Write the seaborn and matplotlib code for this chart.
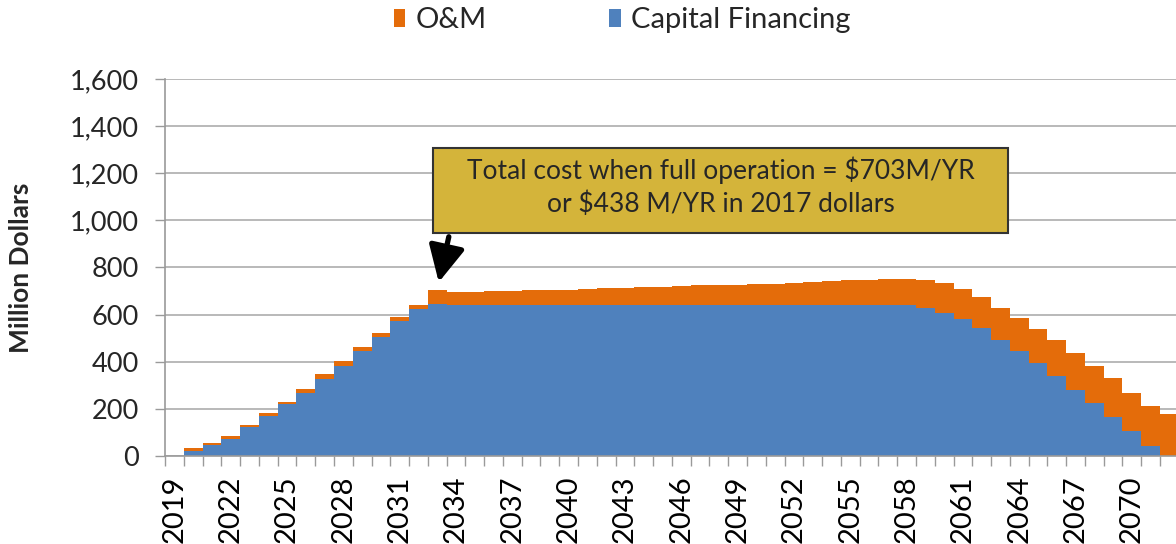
import numpy as np
import pandas as pd
import matplotlib.pyplot as plt
import seaborn as sns
from matplotlib.patches import Patch, Rectangle
from matplotlib.ticker import FuncFormatter, MultipleLocator

# Chart data (million dollars per year)
years = list(range(2019, 2073))
capital = [0, 22, 45, 72, 122, 170, 219, 269, 328, 383,
           444, 504, 573, 623, 645, 642, 642, 642, 642, 642,
           642, 642, 642, 642, 642, 642, 642, 642, 642, 642,
           642, 642, 642, 642, 642, 642, 642, 642, 642, 642,
           630, 606, 580, 542, 492, 444, 393, 340, 280, 225,
           166, 105, 41, 0]
om = [0, 13, 12, 13, 11, 11, 12, 17, 19, 20,
      17, 17, 18, 18, 58, 53, 55, 57, 58, 61,
      63, 64, 67, 69, 72, 74, 77, 79, 82, 84,
      85, 88, 90, 94, 97, 100, 103, 106, 110, 111,
      117, 127, 129, 134, 136, 140, 147, 152, 157, 158,
      164, 164, 173, 180]
series_names = ["O&M", "Capital Financing"]
series_colors = ["#E46C0A", "#4F81BD"]
label_years = list(range(2019, 2071, 3))
note_text = "Total cost when full operation = $703M/YR\nor $438 M/YR in 2017 dollars"

df = pd.DataFrame({
    "year": years * 2,
    "value": om + capital,
    "series": ["O&M"] * len(years) + ["Capital Financing"] * len(years),
})

sns.set_style("white")
plt.rcParams["font.family"] = ["Lato", "DejaVu Sans"]

fig = plt.figure(figsize=(11.76, 5.44), dpi=100)
ax = fig.add_axes([0.1403, 0.1618, 0.8597, 0.693])

# stacked columns with no gap; last hue level ends up at the bottom
sns.histplot(data=df, x="year", weights="value", hue="series",
             hue_order=series_names, palette=series_colors,
             multiple="stack", discrete=True, shrink=1, alpha=1,
             linewidth=0, legend=False, ax=ax)

ax.set_xlim(2018.5, 2072.35)
ax.set_ylim(0, 1600)
ax.yaxis.set_major_locator(MultipleLocator(200))
ax.yaxis.set_major_formatter(FuncFormatter(lambda v, p: f"{int(v):,}"))
ax.grid(axis="y", color="#ADADAD", linewidth=1.2)
ax.grid(axis="x", visible=False)
ax.set_axisbelow(True)

ax.set_xticks(label_years)
ax.set_xticklabels([str(y) for y in label_years], rotation=90)
ax.set_xticks(np.arange(2018.5, 2072, 1), minor=True)
ax.tick_params(axis="x", which="major", length=0, pad=14, labelsize=21, colors="black")
ax.tick_params(axis="x", which="minor", length=7, width=1, color="#9A9A9A", direction="out", bottom=True)
ax.tick_params(axis="y", length=7, width=1, color="#9A9A9A", direction="out", left=True, labelsize=19.5, pad=12)

for side in ["top", "right"]:
    ax.spines[side].set_visible(False)
for side in ["left", "bottom"]:
    ax.spines[side].set_color("#9A9A9A")
    ax.spines[side].set_linewidth(1.2)

ax.set_xlabel("")
ax.set_ylabel("Million Dollars", fontsize=19, fontweight="bold")
ax.yaxis.set_label_coords(-0.1306, 0.5)

# callout box and arrow
ax.add_patch(Rectangle((2032.8, 946), 30.6, 361, facecolor="#D4B43A",
                       edgecolor="#333333", linewidth=1.5, zorder=5, clip_on=False))
ax.text(2048.1, 1143, note_text, ha="center", va="center", fontsize=19,
        linespacing=1.4, zorder=6)
ax.annotate("", xy=(2033.05, 726), xytext=(2033.65, 942),
            arrowprops=dict(arrowstyle="-|>,head_width=0.5,head_length=1.0",
                            lw=3.8, color="black", mutation_scale=22), zorder=6)

handles = [Patch(facecolor=c, edgecolor="none") for c in series_colors]
fig.legend(handles, series_names, loc="center", bbox_to_anchor=(0.529, 0.963),
           ncol=2, frameon=False, fontsize=21, handlelength=0.4, handleheight=0.6,
           handletextpad=0.35, columnspacing=4.2)

fig.savefig("out.png", dpi=100)
